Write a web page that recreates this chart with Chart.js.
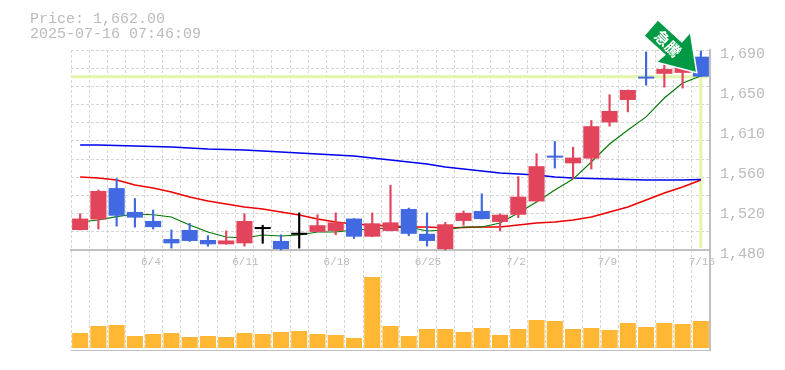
<!DOCTYPE html>
<html>
<head>
<meta charset="utf-8">
<title>Price chart</title>
<script src="https://cdn.jsdelivr.net/npm/chart.js@4"></script>
<style>
  html, body { margin: 0; background: #fff; }
  canvas { display: block; }
</style>
</head>
<body>
<canvas id="chart" width="785" height="370"></canvas>
<script>
// dados
const dates = ['5/29','5/30','6/2','6/3','6/4','6/5','6/6','6/9','6/10','6/11','6/12','6/13','6/16','6/17','6/18','6/19','6/20','6/23','6/24','6/25','6/26','6/27','6/30','7/1','7/2','7/3','7/4','7/7','7/8','7/9','7/10','7/11','7/14','7/15','7/16'];
const opens  = [1501,1512,1545,1520,1510.5,1491.5,1501,1490.5,1486,1487,1502,1489.5,1496,1499,1500,1513,1494,1500,1523,1497,1481,1510.5,1521,1509.5,1517,1531,1579,1571,1576,1614,1637.5,1662,1665,1666,1683];
const highs  = [1518,1543,1555,1534,1522,1501,1508,1495,1500,1518,1506,1496,1519,1517,1519,1513,1519,1548,1524,1519,1509,1521,1539,1518,1557,1581,1594,1588,1616,1643,1648,1688,1677,1682,1689];
const lows   = [1501,1502,1505,1504,1502,1482,1489,1484,1486,1484,1487,1480,1482,1499,1496,1492,1494,1500,1495,1484,1480,1506,1512.5,1500,1514,1531,1566,1555,1565,1610,1625,1653,1651,1650,1662];
const closes = [1513,1542,1516,1514,1504,1487,1489.5,1486,1490,1510.5,1502,1481,1496,1506,1509,1494,1508,1509,1497,1489.5,1507,1519,1512.5,1517,1536,1568,1577,1577,1610,1626,1648,1660,1670,1677,1662];
const maBlue = [1590.2,1590.2,1589.7,1589.2,1588.7,1588.2,1587.1,1586,1585.5,1585,1584,1582.9,1581.9,1580.8,1579.8,1578.7,1576.6,1574.5,1572.4,1570.3,1567.2,1565,1563,1560.9,1559.8,1558.8,1556.7,1555.6,1555.1,1554.6,1554,1553.5,1553.5,1553.5,1554];
const maRed  = [1556.7,1555.6,1553.5,1548.3,1545.1,1540.9,1535.6,1531.5,1528.3,1525.2,1523,1519.9,1516.8,1512.6,1509.4,1507.3,1506.3,1505.2,1504.2,1504.2,1503.1,1503.6,1504.2,1504.2,1506.3,1508.4,1509.4,1511.5,1514.7,1519.9,1525.2,1532.5,1539.9,1546.2,1553.5];
const maGreen = [1509.4,1511.5,1515,1517.8,1517,1514.7,1506.3,1498.9,1493.7,1492.6,1495.8,1494.7,1495.8,1498.9,1498.9,1501,1502,1503.1,1504.2,1500,1501,1504.2,1504.2,1508.4,1518.9,1530.4,1543,1554.5,1572.4,1591.3,1606,1619.7,1639.6,1655.4,1662.7];
const volumes = [15,22,23,12,14,15,11,12,11,15,14,16,17,14,13,10,71,22,12,19,19,16,20,13,19,28,27,19,20,18,25,21,25,24,27];
const tickValues = [1690,1648,1606,1564,1522,1480];
const tickLabels = ['1,690','1,650','1,610','1,560','1,520','1,480'];
const dateLabels = ['6/4','6/11','6/18','6/25','7/2','7/9','7/16'];
const currentPrice = 1662;
const priceText = 'Price: 1,662.00';
const timeText = '2025-07-16 07:46:09';
const arrowText = '急騰';

const UP = '#e2445c';
const DOWN = '#4169e1';
const EVEN = '#000000';
const GRID = '#d6d6d6';
const AXIS = '#c0c0c0';
const TEXT = '#bbbbbb';
const GUIDE = '#e3f5a9';
const MONO = '"Liberation Mono", monospace';

// cor de cada candle
const candleColors = closes.map((c, i) => c > opens[i] ? UP : (c < opens[i] ? DOWN : EVEN));

// grade horizontal: 11 divisões entre 1690 e 1480, mais a linha de base do volume
const PRICE_MIN = 1375;
const gridValues = [];
for (let i = 0; i <= 11; i++) gridValues.push(1690 - i * 210 / 11);

// linhas verde-claras do preço atual, atrás dos candles
const guidePlugin = {
    id: 'guide',
    beforeDatasetsDraw(chart) {
        const { ctx, scales, chartArea } = chart;
        const y = scales.y.getPixelForValue(currentPrice);
        const x = scales.x.getPixelForValue(dates.length - 1);
        ctx.save();
        ctx.strokeStyle = GUIDE;
        ctx.lineWidth = 3;
        ctx.beginPath();
        ctx.moveTo(chartArea.left, y);
        ctx.lineTo(chartArea.right - 2, y);
        ctx.moveTo(x, y);
        ctx.lineTo(x, scales.y.getPixelForValue(1482));
        ctx.stroke();
        ctx.restore();
    }
};

// seta verde e textos de cabeçalho
const overlayPlugin = {
    id: 'overlay',
    afterDraw(chart) {
        const { ctx, scales } = chart;
        const tipX = scales.x.getPixelForValue(dates.length - 1) - 5;
        const tipY = scales.y.getPixelForValue(currentPrice) - 5;
        const shape = [[-38,-51],[-14,-29],[-6,-38],[0,0],[-38,-10],[-30,-17],[-51,-36]];
        ctx.save();
        ctx.beginPath();
        shape.forEach(([dx, dy], i) => {
            if (i === 0) ctx.moveTo(tipX + dx, tipY + dy);
            else ctx.lineTo(tipX + dx, tipY + dy);
        });
        ctx.closePath();
        ctx.lineJoin = 'miter';
        ctx.lineWidth = 3;
        ctx.strokeStyle = '#ffffff';
        ctx.stroke();
        ctx.fillStyle = '#009944';
        ctx.fill();

        ctx.translate(tipX - 28, tipY - 28);
        ctx.rotate(Math.PI / 4);
        ctx.fillStyle = '#ffffff';
        ctx.font = 'bold 15px "Noto Sans CJK JP"';
        ctx.textAlign = 'center';
        ctx.textBaseline = 'middle';
        ctx.fillText(arrowText, 0, 0);
        ctx.restore();

        ctx.save();
        ctx.fillStyle = TEXT;
        ctx.font = '15px ' + MONO;
        ctx.textBaseline = 'alphabetic';
        ctx.fillText(priceText, 30, 23);
        ctx.fillText(timeText, 30, 38);
        ctx.restore();
    }
};

new Chart(document.getElementById('chart').getContext('2d'), {
    data: {
        labels: dates,
        datasets: [
            { type: 'line', data: maBlue, yAxisID: 'y', borderColor: '#0000ee', borderWidth: 1.6, pointRadius: 0, tension: 0, order: 5 },
            { type: 'line', data: maRed, yAxisID: 'y', borderColor: '#ee0000', borderWidth: 1.6, pointRadius: 0, tension: 0, order: 5 },
            { type: 'line', data: maGreen, yAxisID: 'y', borderColor: '#007700', borderWidth: 1.1, pointRadius: 0, tension: 0, order: 4 },
            { type: 'bar', data: volumes, yAxisID: 'yVol', backgroundColor: '#ffb734', grouped: false, barPercentage: 0.88, categoryPercentage: 1, order: 3 },
            { type: 'bar', data: lows.map((l, i) => [l, highs[i]]), yAxisID: 'y', backgroundColor: candleColors, grouped: false, barThickness: 1.5, order: 2 },
            { type: 'bar', data: opens.map((o, i) => [o, closes[i]]), yAxisID: 'y', backgroundColor: candleColors, grouped: false, barPercentage: 0.88, categoryPercentage: 1, minBarLength: 2, order: 1 }
        ]
    },
    options: {
        responsive: false,
        animation: false,
        layout: { padding: { left: 71, top: 50, bottom: 20, right: 0 } },
        plugins: { legend: { display: false }, tooltip: { enabled: false } },
        scales: {
            x: {
                position: { y: 1480 },
                offset: true,
                grid: { offset: true, color: GRID, lineWidth: 1, drawTicks: false },
                border: { color: AXIS, width: 2, dash: [3, 2] },
                ticks: {
                    autoSkip: false,
                    maxRotation: 0,
                    padding: 5,
                    labelOffset: 1,
                    color: TEXT,
                    font: { family: MONO, size: 11 },
                    callback(value) {
                        const label = this.getLabelForValue(value);
                        // todos os rótulos começam no mesmo ponto do candle
                        return dateLabels.includes(label) ? label.padEnd(4) : '';
                    }
                }
            },
            y: {
                position: 'right',
                min: PRICE_MIN,
                max: 1690,
                afterFit(scale) { scale.width = 75; },
                afterBuildTicks(scale) {
                    const extra = tickValues.filter(v => !gridValues.includes(v));
                    scale.ticks = gridValues.concat(extra, [PRICE_MIN]).map(value => ({ value }));
                },
                grid: {
                    drawTicks: false,
                    lineWidth: 1,
                    color(ctx) {
                        const v = ctx.tick && ctx.tick.value;
                        if (v === PRICE_MIN) return AXIS;
                        if (v === 1480) return 'transparent';
                        return gridValues.includes(v) ? GRID : 'transparent';
                    }
                },
                border: {
                    color: AXIS,
                    width: 2,
                    dash(ctx) { return ctx.tick && ctx.tick.value === PRICE_MIN ? [] : [3, 2]; }
                },
                ticks: {
                    autoSkip: false,
                    padding: 10,
                    labelOffset: 4,
                    color: TEXT,
                    font: { family: MONO, size: 15 },
                    callback(value) {
                        const i = tickValues.indexOf(value);
                        return i >= 0 ? tickLabels[i] : '';
                    }
                }
            },
            yVol: { display: false, min: -2, max: 298 }
        }
    },
    plugins: [guidePlugin, overlayPlugin]
});
</script>
</body>
</html>
